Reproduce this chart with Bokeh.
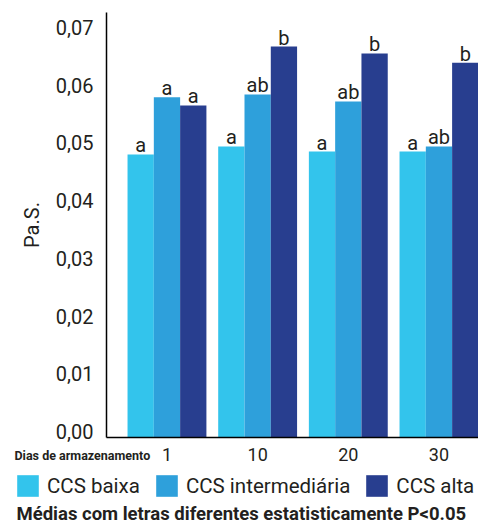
from bokeh.plotting import figure
from bokeh.layouts import column
from bokeh.models import (Range1d, FixedTicker, CustomJSTickFormatter, Legend,
                          LegendItem, Label, ColumnDataSource)
from bokeh.transform import dodge
from bokeh.core.properties import value
from bokeh.embed import file_html
from bokeh.resources import INLINE

# ---- data ----
days = ["1", "10", "20", "30"]
ccs_baixa = [0.0480, 0.0494, 0.0485, 0.0485]
ccs_intermediaria = [0.0579, 0.0584, 0.0572, 0.0494]
ccs_alta = [0.0565, 0.0667, 0.0655, 0.0639]
letras_baixa = ["a", "a", "a", "a"]
letras_intermediaria = ["a", "ab", "ab", "ab"]
letras_alta = ["a", "b", "b", "b"]
series_names = ["CCS baixa", "CCS intermediária", "CCS alta"]
y_ticks = [0.0, 0.01, 0.02, 0.03, 0.04, 0.05, 0.06, 0.07]
y_title = "Pa.S."
x_title = "Dias de armazenamento"
caption = "Médias com letras diferentes estatisticamente P<0.05"

colors = ["#33C4EC", "#2EA0DB", "#283E8F"]
FONT = "Roboto"
TXT = "#231F20"

xs = list(range(len(days)))
src = ColumnDataSource(dict(
    x=xs, baixa=ccs_baixa, inter=ccs_intermediaria, alta=ccs_alta,
    lb=letras_baixa, li=letras_intermediaria, la=letras_alta,
))

# ---- main chart ----
y_lo = -0.00104   # axis line sits a little below the 0,00 label
p = figure(width=478, height=470, output_backend="svg", toolbar_location=None,
           x_range=Range1d(-0.667, 3.436), y_range=Range1d(y_lo, 0.0726),
           min_border_left=106, min_border_right=0, min_border_top=12,
           min_border_bottom=33)
p.outline_line_color = None
p.xgrid.visible = False
p.ygrid.visible = False

bw = 0.29
cols = ["baixa", "inter", "alta"]
lets = ["lb", "li", "la"]
offs = [-bw, 0.0, bw]
for c, l, o, col in zip(cols, lets, offs, colors):
    p.vbar(x=dodge("x", o, range=p.x_range), top=c, width=bw, bottom=y_lo,
           source=src, fill_color=col, line_color=None)
    p.text(x=dodge("x", o, range=p.x_range), y=c, text=l, source=src,
           text_align="center", text_baseline="bottom", y_offset=3,
           text_font=value(FONT), text_font_size="20px", text_color=TXT)

p.xaxis.ticker = FixedTicker(ticks=xs)
p.xaxis.major_label_overrides = {i: d for i, d in zip(xs, days)}
p.yaxis.ticker = FixedTicker(ticks=y_ticks)
p.yaxis.formatter = CustomJSTickFormatter(code="return tick.toFixed(2).replace('.', ',');")
for ax in (p.xaxis, p.yaxis):
    ax.axis_line_color = "black"
    ax.axis_line_width = 1.5
    ax.major_tick_line_color = None
    ax.minor_tick_line_color = None
    ax.major_label_text_font = FONT
    ax.major_label_text_color = TXT
p.xaxis.major_label_text_font_size = "18px"
p.xaxis.major_label_standoff = 4
p.yaxis.major_label_text_font_size = "20px"
p.yaxis.major_label_standoff = 7
p.yaxis.axis_label = y_title
p.yaxis.axis_label_text_font = FONT
p.yaxis.axis_label_text_font_style = "normal"
p.yaxis.axis_label_text_font_size = "20px"
p.yaxis.axis_label_text_color = TXT
p.yaxis.axis_label_standoff = 9

# ---- legend / notes strip (overlaps the bottom of the chart) ----
H2 = 80
p2 = figure(width=478, height=H2, output_backend="svg", toolbar_location=None,
            x_range=Range1d(0, 478), y_range=Range1d(0, H2),
            x_axis_location=None, y_axis_location=None,
            min_border=0, min_border_left=0, min_border_right=0,
            min_border_top=0, min_border_bottom=0)
if "frame_align" in p2.properties():
    p2.frame_align = False
    p.frame_align = False
p2.outline_line_color = None
p2.xgrid.visible = False
p2.ygrid.visible = False
p2.background_fill_color = None
p2.border_fill_color = None
p2.styles = {"margin-top": "-26px"}

# zero-width stand-in bars carry the legend swatches
swatches = [p2.vbar(x=xs, top=vals, width=0, fill_color=col, line_color=None)
            for vals, col in zip([ccs_baixa, ccs_intermediaria, ccs_alta], colors)]
legend = Legend(items=[LegendItem(label=n, renderers=[r]) for n, r in zip(series_names, swatches)],
                orientation="horizontal", location=(14, 25),
                glyph_width=27, glyph_height=27, label_standoff=6, spacing=13,
                padding=0, margin=0, border_line_color=None, background_fill_alpha=0,
                label_text_font=FONT, label_text_font_size="20.5px", label_text_color=TXT,
                label_height=27)
p2.add_layout(legend, "center")
p2.add_layout(Label(x=14, y=69, x_units="screen", y_units="screen", text=x_title,
                    text_font=FONT, text_font_style="bold", text_font_size="12.5px",
                    text_color=TXT, text_baseline="middle", text_align="left"))
p2.add_layout(Label(x=16, y=11, x_units="screen", y_units="screen", text=caption,
                    text_font=FONT, text_font_style="bold", text_font_size="18.5px",
                    text_color=TXT, text_baseline="middle", text_align="left"))

layout = column(p, p2, spacing=0)
open("out.html", "w").write(file_html(layout, INLINE))
